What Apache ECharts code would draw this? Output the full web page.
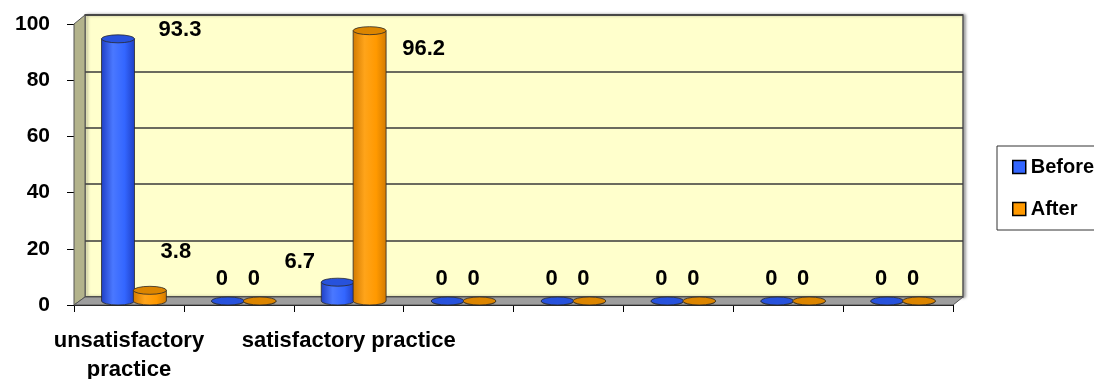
<!DOCTYPE html>
<html>
<head>
<meta charset="utf-8">
<title>Before / After practice</title>
<script src="https://cdn.jsdelivr.net/npm/echarts@6/dist/echarts.min.js"></script>
<style>
	html, body {
		margin: 0;
		padding: 0;
		background: #fff;
	}
	#chart {
		width: 1094px;
		height: 379px;
	}
</style>
</head>
<body>
<div id="chart"></div>

<script type="text/javascript">
	// 数据
	var categories = ['unsatisfactory\npractice', '', 'satisfactory practice', '', '', '', '', ''];
	var seriesNames = ['Before', 'After'];
	var beforeValues = [93.3, 0, 6.7, 0, 0, 0, 0, 0];
	var afterValues = [3.8, 0, 96.2, 0, 0, 0, 0, 0];
	var yTicks = [0, 20, 40, 60, 80, 100];

	var FONT = 'Liberation Sans';

	// 数值标签相对柱顶的偏移（仿 Excel 3D 图的位置）
	var labelShift = {
		Before: { 0: [62, -9], 2: [-38, -20] },
		After: { 0: [26, -38], 2: [54, 18] }
	};
	var zeroShift = [-6, -22];

	// 圆柱配色
	var palette = {
		Before: { dark: '#1f3fc4', mid: '#4a78ff', light: '#3366ff', cap: '#2752dc' },
		After: { dark: '#d27a00', mid: '#ffa41a', light: '#ff9900', cap: '#dc8500' }
	};

	function ellipsePath(cx, cy, rx, ry) {
		return 'M' + (cx - rx) + ' ' + cy +
			'A' + rx + ' ' + ry + ' 0 1 0 ' + (cx + rx) + ' ' + cy +
			'A' + rx + ' ' + ry + ' 0 1 0 ' + (cx - rx) + ' ' + cy + 'Z';
	}

	// 画圆柱
	function cylinder(name, shift) {
		var c = palette[name];
		return function (params, api) {
			var idx = api.value(0);
			var val = api.value(1);
			var top = api.coord([idx, val]);
			var base = api.coord([idx, 0]);
			var band = api.size([1, 0])[0];
			var w = band * 0.3;
			var rx = w / 2;
			var ry = 4;
			var cx = top[0] + band * shift;
			var x1 = cx - rx, x2 = cx + rx;
			var body = 'M' + x1 + ' ' + top[1] + 'L' + x1 + ' ' + base[1] +
				'A' + rx + ' ' + ry + ' 0 0 0 ' + x2 + ' ' + base[1] +
				'L' + x2 + ' ' + top[1] + 'Z';
			var grad = new echarts.graphic.LinearGradient(0, 0, 1, 0, [
				{ offset: 0, color: c.dark },
				{ offset: 0.35, color: c.mid },
				{ offset: 0.7, color: c.light },
				{ offset: 1, color: c.dark }
			]);
			var s = (labelShift[name][idx]) || zeroShift;
			if (val !== 0 && !labelShift[name][idx]) s = [0, -14];
			return {
				type: 'group',
				children: [
					{
						type: 'path',
						shape: { pathData: body },
						style: { fill: grad, stroke: '#2a2a2a', lineWidth: 0.8 }
					},
					{
						type: 'path',
						shape: { pathData: ellipsePath(cx, top[1], rx, ry) },
						style: { fill: c.cap, stroke: '#2a2a2a', lineWidth: 0.8 }
					},
					{
						type: 'text',
						style: {
							x: cx + s[0],
							y: top[1] + s[1],
							text: String(val),
							fill: '#000',
							font: 'bold 22px "' + FONT + '"',
							align: 'center',
							verticalAlign: 'middle'
						}
					}
				]
			};
		};
	}

	function toItems(values) {
		return values.map(function (v, i) { return [i, v]; });
	}

	var option = {
		animation: false,
		backgroundColor: '#fff',
		textStyle: { fontFamily: FONT, fontWeight: 'bold' },
		grid: [
			// 背墙
			{
				show: true, left: 85, right: 131, top: 15, bottom: 82, outerBoundsMode: 'none',
				backgroundColor: '#ffffcc', borderColor: '#555', borderWidth: 1.5,
				shadowColor: 'rgba(0,0,0,0.35)', shadowBlur: 3, shadowOffsetX: 2
			},
			// 前沿坐标轴
			{ left: 74, right: 141, top: 24, bottom: 74, outerBoundsMode: 'none' },
			// 柱子
			{ left: 79, right: 136, top: 20, bottom: 78, outerBoundsMode: 'none' }
		],
		xAxis: [
			{ gridIndex: 0, type: 'category', data: categories, show: false },
			{
				gridIndex: 1, type: 'category', data: categories,
				axisLine: { lineStyle: { color: '#000', width: 1 } },
				axisTick: { show: true, length: 7, interval: 0, lineStyle: { color: '#000' } },
				axisLabel: {
					interval: 0, margin: 21, color: '#000', fontSize: 22,
					fontWeight: 'bold', fontFamily: FONT, lineHeight: 29, hideOverlap: false
				}
			},
			{ gridIndex: 2, type: 'category', data: categories, show: false }
		],
		yAxis: [
			{
				gridIndex: 0, type: 'value', min: 0, max: 100, interval: 20,
				axisLabel: { show: false }, axisLine: { show: false }, axisTick: { show: false },
				splitLine: { lineStyle: { color: '#3a3a3a', width: 1.5 } }
			},
			{
				gridIndex: 1, type: 'value', min: 0, max: 100, interval: 20,
				axisLine: { show: true, lineStyle: { color: '#000', width: 1 } },
				axisTick: { show: true, length: 7, lineStyle: { color: '#000' } },
				splitLine: { show: false },
				axisLabel: {
					margin: 24, color: '#000', fontSize: 21, fontWeight: 'bold', fontFamily: FONT,
					formatter: function (v) { return yTicks.indexOf(v) >= 0 ? String(v) : ''; }
				}
			},
			{ gridIndex: 2, type: 'value', min: 0, max: 100, show: false }
		],
		legend: {
			data: seriesNames,
			orient: 'vertical',
			left: 997, top: 146,
			padding: [11, 15, 11, 15],
			itemGap: 22, itemWidth: 13, itemHeight: 13,
			icon: 'rect',
			borderColor: '#333', borderWidth: 1,
			itemStyle: { borderColor: '#000', borderWidth: 1.5 },
			textStyle: { color: '#000', fontSize: 20, fontWeight: 'bold', fontFamily: FONT }
		},
		graphic: [
			// 左侧墙
			{
				type: 'polygon', z: 1,
				shape: { points: [[74, 24], [85, 15], [85, 297], [74, 305]] },
				style: { fill: '#b3b38c', stroke: '#555', lineWidth: 1 }
			},
			// 底面
			{
				type: 'polygon', z: 1,
				shape: { points: [[74, 305], [85, 297], [963, 297], [953, 305]] },
				style: { fill: '#9e9e9e', stroke: '#555', lineWidth: 1 }
			}
		],
		series: [
			{
				name: 'Before', type: 'custom', xAxisIndex: 2, yAxisIndex: 2, z: 5,
				itemStyle: { color: '#3366ff' },
				renderItem: cylinder('Before', -0.145),
				encode: { x: 0, y: 1 },
				data: toItems(beforeValues)
			},
			{
				name: 'After', type: 'custom', xAxisIndex: 2, yAxisIndex: 2, z: 5,
				itemStyle: { color: '#ff9900' },
				renderItem: cylinder('After', 0.145),
				encode: { x: 0, y: 1 },
				data: toItems(afterValues)
			}
		]
	};

	var chart = echarts.init(document.getElementById('chart'));
	chart.setOption(option);
</script>
</body>
</html>
